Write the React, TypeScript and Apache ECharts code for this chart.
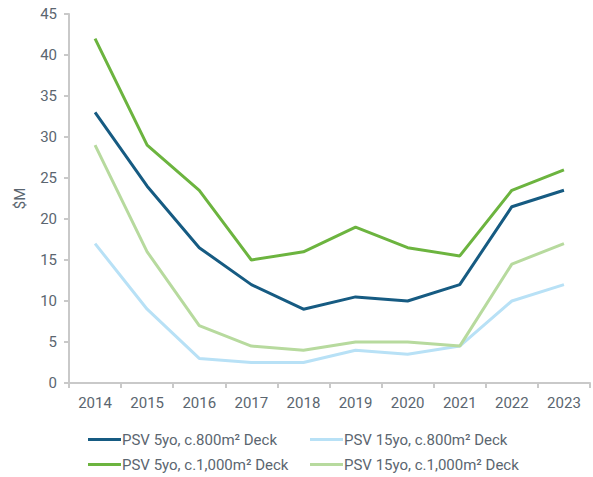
import React, { useEffect, useRef } from "react";
import * as echarts from "echarts";

const years = ["2014", "2015", "2016", "2017", "2018", "2019", "2020", "2021", "2022", "2023"];
const psv5yo800 = [33, 24, 16.5, 12, 9, 10.5, 10, 12, 21.5, 23.5];
const psv15yo800 = [17, 9, 3, 2.5, 2.5, 4, 3.5, 4.5, 10, 12];
const psv5yo1000 = [42, 29, 23.5, 15, 16, 19, 16.5, 15.5, 23.5, 26];
const psv15yo1000 = [29, 16, 7, 4.5, 4, 5, 5, 4.5, 14.5, 17];
const seriesNames = [
  "PSV 5yo, c.800m² Deck",
  "PSV 15yo, c.800m² Deck",
  "PSV 5yo, c.1,000m² Deck",
  "PSV 15yo, c.1,000m² Deck",
];
const colors = ["#165b82", "#b8e1f6", "#6cb43f", "#b7da9e"];

export default function App() {
  const ref = useRef<HTMLDivElement>(null);
  useEffect(() => {
    if (!ref.current) return;
    const chart = echarts.init(ref.current, null, { renderer: "svg" });
    const font = "Roboto, 'Noto Sans', sans-serif";
    const textColor = "#5b6670";
    const dataSets = [psv5yo800, psv15yo800, psv5yo1000, psv15yo1000];
    const legendCommon = {
      orient: "vertical" as const,
      top: 427,
      height: 60,
      icon: "rect",
      itemWidth: 33,
      itemHeight: 3,
      itemGap: 10,
      textStyle: { fontFamily: font, fontSize: 15, color: textColor, padding: [0, 0, 0, -4] },
    };
    chart.setOption({
      animation: false,
      color: colors,
      grid: { left: 69, right: 3, top: 14, bottom: 94, containLabel: false },
      legend: [
        { ...legendCommon, left: 83, data: [seriesNames[0], seriesNames[2]] },
        { ...legendCommon, left: 305, data: [seriesNames[1], seriesNames[3]] },
      ],
      xAxis: {
        type: "category",
        data: years,
        boundaryGap: true,
        axisLine: { lineStyle: { color: "#c9c9c9", width: 2 } },
        axisTick: { show: true, length: 5, lineStyle: { color: "#c9c9c9", width: 2 } },
        axisLabel: { fontFamily: font, fontSize: 15, color: textColor, margin: 12 },
      },
      yAxis: {
        type: "value",
        min: 0,
        max: 45,
        interval: 5,
        name: "$M",
        nameLocation: "middle",
        nameGap: 42,
        nameTextStyle: { fontFamily: font, fontSize: 15, color: textColor },
        axisLine: { show: true, lineStyle: { color: "#c9c9c9", width: 2 } },
        axisTick: { show: true, length: 5, lineStyle: { color: "#c9c9c9", width: 2 } },
        splitLine: { show: false },
        axisLabel: { fontFamily: font, fontSize: 15, color: textColor, margin: 12 },
      },
      series: dataSets.map((d, i) => ({
        name: seriesNames[i],
        type: "line",
        data: d,
        showSymbol: false,
        symbol: "none",
        lineStyle: { width: 3, color: colors[i] },
        itemStyle: { color: colors[i] },
      })),
    });
    return () => chart.dispose();
  }, []);
  return <div ref={ref} style={{ width: 593, height: 477, position: "absolute", left: 0, top: 0 }} />;
}
